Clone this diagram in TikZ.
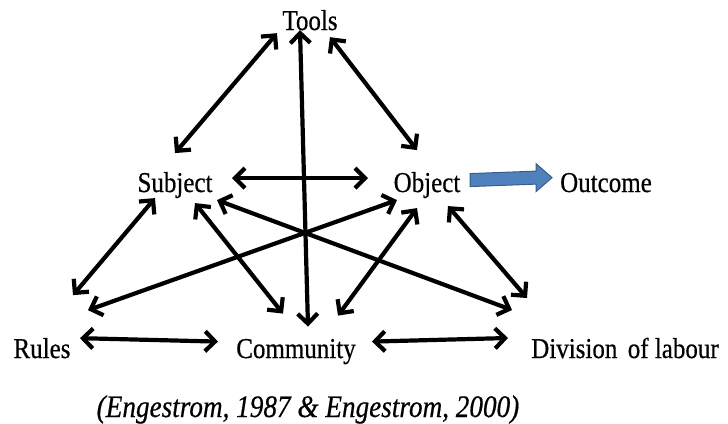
\documentclass[tikz,border=0pt]{standalone}
\usepackage{fontspec}
\setmainfont{Liberation Serif}[FakeBold=0.6]
\usepackage{graphicx}
\usetikzlibrary{arrows.meta,calc}
\definecolor{arrfill}{RGB}{79,129,189}
\definecolor{arrdraw}{RGB}{56,93,138}
\newcommand{\stretchtxt}[1]{\scalebox{1}[1.15]{#1}}
\begin{document}
\begin{tikzpicture}[x=1pt,y=-1pt,
  lbl/.style={inner sep=0pt,anchor=base,font=\fontsize{25}{30}\selectfont},
  captxt/.style={inner sep=0pt,anchor=base,font=\fontsize{27.2}{30}\selectfont\itshape},
  dbl/.style={line width=4.2pt,<->},
  >={Straight Barb[length=10pt,width=20pt]},
  bluearrow/.style={fill=arrfill,draw=arrdraw,line width=1pt,line join=miter}]
\useasboundingbox (0,0) rectangle (728,423);
% nodes
\node[lbl] (tools) at (310,30) {\stretchtxt{Tools}};
\node[lbl] (subject) at (175,192) {\stretchtxt{Subject}};
\node[lbl] (object) at (427,192) {\stretchtxt{Object}};
\node[lbl] (outcome) at (606,192) {\stretchtxt{Outcome}};
\node[lbl] (rules) at (42,358) {\stretchtxt{Rules}};
\node[lbl] (community) at (296,358) {\stretchtxt{Community}};
\node[lbl] (division) at (625,358) {\stretchtxt{Division\, of labour}};
\node[captxt] (caption) at (308,417) {\stretchtxt{(Engestrom, 1987 \& Engestrom, 2000)}};
% connectors
\draw[dbl] ($(tools)+(-33,13)$) -- ($(subject)+(0,-32)$);
\draw[dbl] ($(tools)+(20,17)$) -- ($(object)+(-10,-35)$);
\draw[dbl] ($(tools)+(-10,10)$) -- ($(community)+(12,-25)$);
\draw[dbl] ($(subject)+(57,-7)$) -- ($(object)+(-59,-7)$);
\draw[dbl] ($(subject)+(-20,13)$) -- ($(rules)+(31,-53)$);
\draw[dbl] ($(object)+(-30,15)$) -- ($(rules)+(46,-38)$);
\draw[dbl] ($(subject)+(20,18)$) -- ($(community)+(-13,-38)$);
\draw[dbl] ($(object)+(-10,23)$) -- ($(community)+(42,-36)$);
\draw[dbl] ($(subject)+(42,15)$) -- ($(division)+(-113,-38)$);
\draw[dbl] ($(object)+(21,21)$) -- ($(division)+(-98,-50)$);
\draw[dbl] ($(rules)+(38,-10)$) -- ($(community)+(-78,-10)$);
\draw[dbl] ($(community)+(76,-10)$) -- ($(division)+(-117,-10)$);
% block arrow Object -> Outcome
\coordinate (oa) at ($(object)+(43,-5)$);
\coordinate (ob) at ($(outcome)+(-54,-5)$);
\draw[bluearrow] ($(oa)+(0,-6.5)$) -- ($(ob)+(-16,-6.5)$) -- ($(ob)+(-16,-14)$) -- (ob)
  -- ($(ob)+(-16,14)$) -- ($(ob)+(-16,6.5)$) -- ($(oa)+(0,6.5)$) -- cycle;
\end{tikzpicture}
\end{document}
